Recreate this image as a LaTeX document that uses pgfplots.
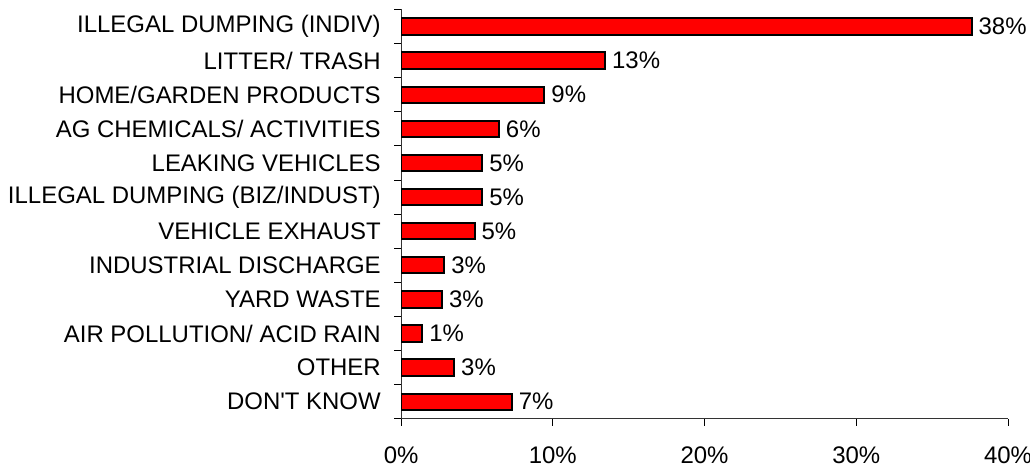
\documentclass[border=0pt]{standalone}
\usepackage{pgfplots}
\pgfplotsset{compat=1.18}
\usepackage{fontspec}
\setmainfont{Liberation Sans}

\begin{document}
\fontsize{12}{14}\selectfont
\begin{tikzpicture}
\begin{axis}[
    scale only axis,
    width=304pt, height=205pt,
    xbar, bar width=8.2pt,
    xmin=0, xmax=40,
    ymin=-0.5, ymax=11.5,
    axis lines*=left,
    axis line style={line width=0.5pt, black!80},
    tick align=outside,
    major tick length=3.5pt,
    minor tick length=3.5pt,
    xtick={0,10,20,30,40},
    xticklabel={\pgfmathprintnumber{\tick}\%},
    /pgf/number format/assume math mode=true,
    ytick={0,...,11},
    minor ytick={-0.5,0.5,...,11.5},
    y tick style={draw=none},
    minor y tick style={draw=black, line width=0.5pt},
    x tick style={black, line width=0.5pt},
    yticklabel style={font=\fontsize{12}{14}\selectfont, xshift=-2.5pt},
    xticklabel style={font=\fontsize{12}{14}\selectfont, yshift=-6.5pt},
    yticklabels={{DON\textquotesingle T KNOW},{OTHER},{AIR POLLUTION/ ACID RAIN},{YARD WASTE},{INDUSTRIAL DISCHARGE},{VEHICLE EXHAUST},{ILLEGAL DUMPING (BIZ/INDUST)},{LEAKING VEHICLES},{AG CHEMICALS/ ACTIVITIES},{HOME/GARDEN PRODUCTS},{LITTER/ TRASH},{ILLEGAL DUMPING (INDIV)}},
    point meta=explicit,
    nodes near coords={\pgfmathprintnumber{\pgfplotspointmeta}\%},
    nodes near coords align={horizontal},
    every node near coord/.append style={font=\fontsize{12}{14}\selectfont, anchor=west, xshift=-1pt},
]
\addplot[fill=red, draw=black, line width=1pt] coordinates {
    (7.3,0) [7]
    (3.5,1) [3]
    (1.4,2) [1]
    (2.7,3) [3]
    (2.85,4) [3]
    (4.85,5) [5]
    (5.35,6) [5]
    (5.35,7) [5]
    (6.45,8) [6]
    (9.45,9) [9]
    (13.45,10) [13]
    (37.6,11) [38]
};
\coordinate (tr) at (rel axis cs:1,1);
\end{axis}
% crop the page like the original: a little room on top, tight on the right
\path (current bounding box.south west) coordinate (sw);
\pgfresetboundingbox
\path[use as bounding box] (sw) rectangle ([xshift=11pt, yshift=4.75pt]tr);
\end{tikzpicture}
\end{document}
